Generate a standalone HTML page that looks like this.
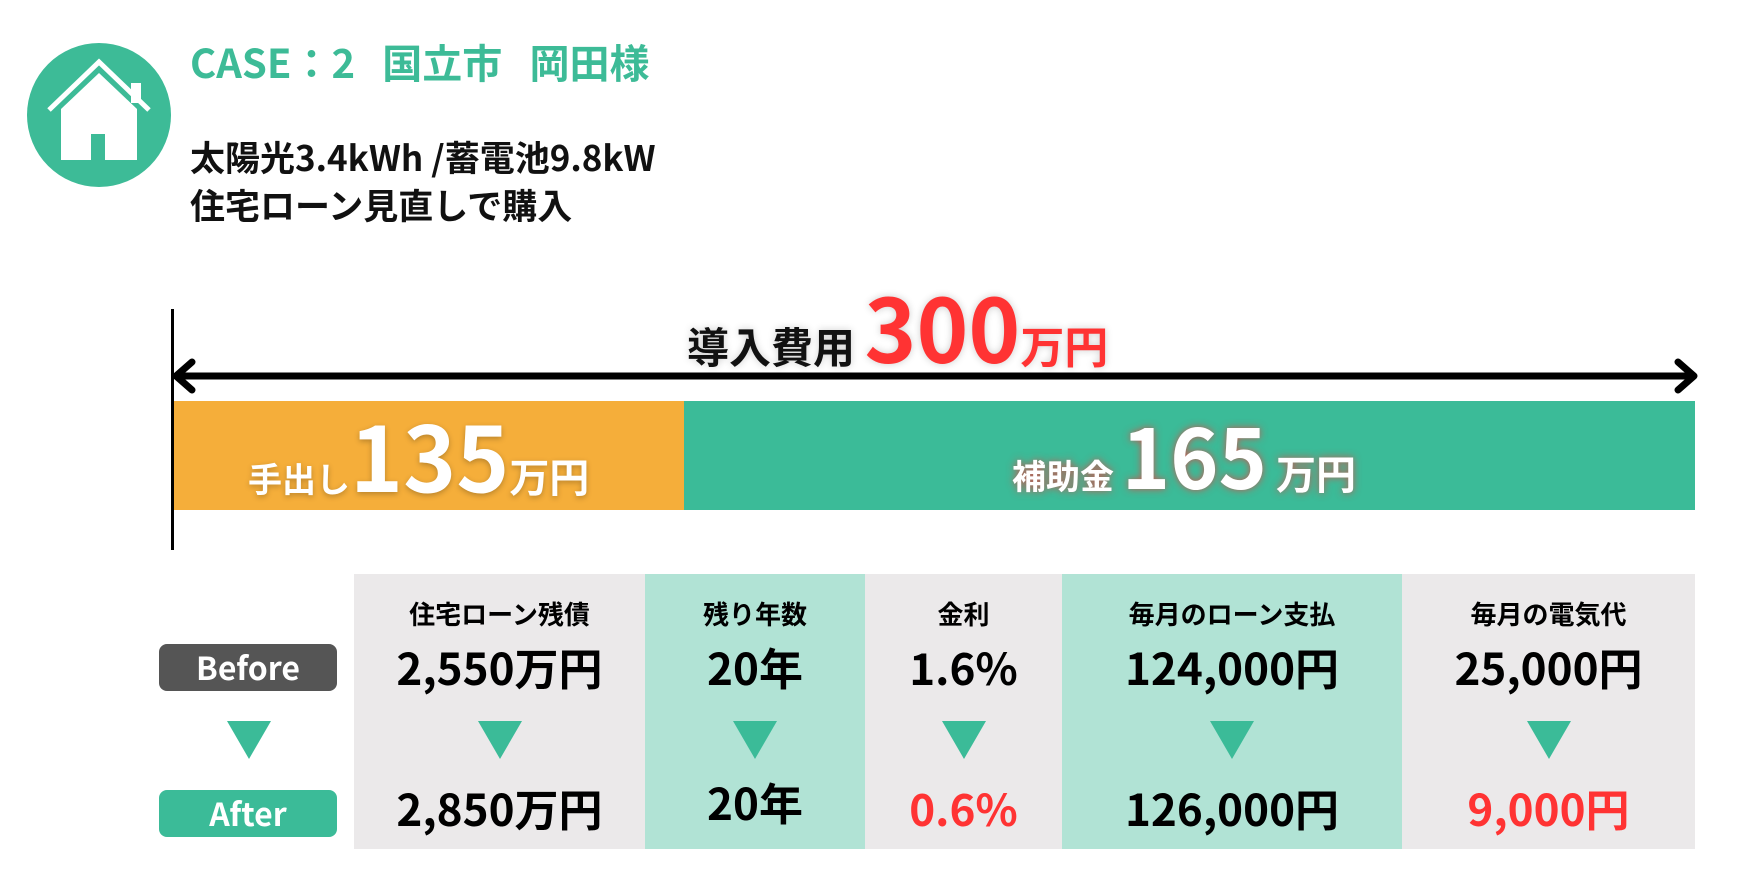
<!DOCTYPE html>
<html><head><meta charset="utf-8"><style>
*{margin:0;padding:0;box-sizing:border-box}
body{width:1740px;height:883px;background:#fff;position:relative;overflow:hidden;font-family:"Noto Sans CJK JP","Liberation Sans",sans-serif;font-weight:700}
.a{position:absolute;white-space:nowrap}
.c{text-align:center}
.tri{position:absolute;width:0;height:0;border-left:22px solid transparent;border-right:22px solid transparent;border-top:38px solid #3bbb98}
</style></head><body>
<div class="a" style="left:27px;top:43px;width:144px;height:144px;border-radius:50%;background:#3dbb97"></div>
<svg class="a" style="left:27px;top:43px" width="144" height="144" viewBox="0 0 144 144">
<polyline points="22,67 72,19 122,67" fill="none" stroke="#fff" stroke-width="5"/>
<rect x="104" y="40" width="10" height="20" fill="#fff"/>
<polygon points="34,66 72,30 110,66 110,117 34,117" fill="#fff"/>
<rect x="64" y="91" width="14" height="26" fill="#3dbb97"/>
</svg>
<div class="a" style="left:190px;top:36px;font-size:40px;color:#3dbb97;line-height:50px">CASE：2&nbsp;&nbsp;&nbsp;国立市&nbsp;&nbsp;&nbsp;岡田様</div>
<div class="a" style="left:190px;top:133px;font-size:35px;line-height:48px;color:#111">太陽光3.4kWh /蓄電池9.8kW<br>住宅ローン見直しで購入</div>
<div class="a" style="left:171px;top:309px;width:3px;height:241px;background:#000"></div>
<svg class="a" style="left:170px;top:355px" width="1540" height="44">
<line x1="6" y1="21" x2="1522" y2="21" stroke="#000" stroke-width="7"/>
<polyline points="22,7 6,21 22,35" fill="none" stroke="#000" stroke-width="7" stroke-linecap="round" stroke-linejoin="round"/>
<polyline points="1508,7 1524,21 1508,35" fill="none" stroke="#000" stroke-width="7" stroke-linecap="round" stroke-linejoin="round"/>
</svg>
<div class="a" style="left:687px;top:286px;font-size:42px;line-height:80px;color:#111;text-shadow:0 0 8px rgba(0,0,0,.2)">導入費用 <span style="font-size:88px;color:#f33">300</span><span style="font-size:44px;color:#f33">万円</span></div>
<div class="a" style="left:174px;top:401px;width:510px;height:109px;background:#f5ae3a"></div>
<div class="a" style="left:684px;top:401px;width:1011px;height:109px;background:#3bbb98"></div>
<div class="a" style="left:248px;top:406px;font-size:34px;line-height:95px;color:#fff;text-shadow:0 2px 6px rgba(0,0,0,.25)">手出し<span style="font-size:90px">135</span><span style="font-size:40px">万円</span></div>
<div class="a" style="left:1012px;top:406px;font-size:34px;line-height:95px;color:#fff;text-shadow:0 0 8px rgba(240,60,60,.8)">補助金 <span style="font-size:82px">165</span><span style="font-size:40px"> 万円</span></div>
<div class="a" style="left:354px;top:574px;width:291px;height:275px;background:#ebe9ea"></div>
<div class="a" style="left:645px;top:574px;width:220px;height:275px;background:#b1e3d5"></div>
<div class="a" style="left:865px;top:574px;width:197px;height:275px;background:#ebe9ea"></div>
<div class="a" style="left:1062px;top:574px;width:340px;height:275px;background:#b1e3d5"></div>
<div class="a" style="left:1402px;top:574px;width:293px;height:275px;background:#ebe9ea"></div>
<div class="a c" style="left:159px;top:644px;width:178px;height:47px;border-radius:8px;background:#555;color:#fff;font-size:32px;line-height:47px">Before</div>
<div class="a c" style="left:159px;top:790px;width:178px;height:47px;border-radius:8px;background:#3bbb98;color:#fff;font-size:32px;line-height:47px">After</div>
<div class="tri" style="left:227px;top:721px"></div>

<div class="a c" style="left:354px;top:596px;width:291px;font-size:26px;line-height:36px">住宅ローン残債</div>
<div class="a c" style="left:354px;top:638px;width:291px;font-size:44px;line-height:56px">2,550万円</div>
<div class="tri" style="left:478px;top:721px"></div>
<div class="a c" style="left:354px;top:779px;width:291px;font-size:44px;line-height:56px">2,850万円</div>

<div class="a c" style="left:645px;top:596px;width:220px;font-size:26px;line-height:36px">残り年数</div>
<div class="a c" style="left:645px;top:638px;width:220px;font-size:44px;line-height:56px">20年</div>
<div class="tri" style="left:733px;top:721px"></div>
<div class="a c" style="left:645px;top:773px;width:220px;font-size:44px;line-height:56px">20年</div>

<div class="a c" style="left:865px;top:596px;width:197px;font-size:26px;line-height:36px">金利</div>
<div class="a c" style="left:865px;top:638px;width:197px;font-size:44px;line-height:56px">1.6%</div>
<div class="tri" style="left:942px;top:721px"></div>
<div class="a c" style="left:865px;top:779px;width:197px;font-size:44px;line-height:56px;color:#f33">0.6%</div>

<div class="a c" style="left:1062px;top:596px;width:340px;font-size:26px;line-height:36px">毎月のローン支払</div>
<div class="a c" style="left:1062px;top:638px;width:340px;font-size:44px;line-height:56px">124,000円</div>
<div class="tri" style="left:1210px;top:721px"></div>
<div class="a c" style="left:1062px;top:779px;width:340px;font-size:44px;line-height:56px">126,000円</div>

<div class="a c" style="left:1402px;top:596px;width:293px;font-size:26px;line-height:36px">毎月の電気代</div>
<div class="a c" style="left:1402px;top:638px;width:293px;font-size:44px;line-height:56px">25,000円</div>
<div class="tri" style="left:1527px;top:721px"></div>
<div class="a c" style="left:1402px;top:779px;width:293px;font-size:44px;line-height:56px;color:#f33">9,000円</div>
</body></html>
